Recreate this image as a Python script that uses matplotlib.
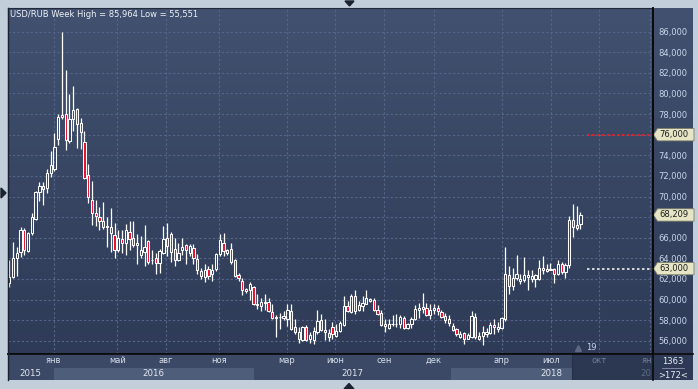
import matplotlib
matplotlib.use('Agg')
import matplotlib.pyplot as plt
import numpy as np
from matplotlib.patches import Rectangle, Polygon
from matplotlib.colors import LinearSegmentedColormap
import matplotlib.transforms as mtransforms

# ---------------- data (weekly USD/RUB candles) ----------------
opens = [61.6, 62.2, 64.0, 64.58, 66.74, 64.74, 66.42, 67.81, 70.4, 71.02,
         70.79, 72.25, 72.63, 75.55, 77.94, 77.97, 75.42, 77.55, 78.49, 77.1,
         75.32, 72.08, 69.66, 68.43, 67.97, 67.65, 67.07, 67.07, 66.26, 64.8,
         65.84, 65.51,
         66.55, 65.94, 65.26, 64.29, 64.65, 65.68, 63.85, 64.0, 63.52, 64.55,
         65.94, 66.32, 64.87, 63.81, 64.77, 65.26, 64.55, 65.03, 63.9, 62.77,
         62.19, 63.0, 62.45, 62.94, 64.39, 65.52, 64.55, 64.87, 63.81, 62.39,
         61.81,
         61.0, 60.9, 61.23, 59.55, 59.39, 59.7, 59.77, 58.81, 58.2, 58.26,
         58.19, 58.1, 58.9, 57.35, 56.87, 56.06, 57.35, 56.16, 56.06, 56.81,
         58.0, 57.03, 56.71, 57.29, 56.48, 56.9, 57.52, 59.35, 58.74, 60.35,
         59.03, 59.35, 59.61, 59.84, 59.94, 58.97, 58.71, 57.65, 57.26, 57.6,
         57.6, 57.58, 58.23, 57.19, 57.58, 58.13, 58.97, 59.29, 59.19, 58.45,
         58.97, 59.19, 58.77, 58.39, 58.06, 57.39, 57.1, 56.39, 56.77, 56.19,
         56.39,
         58.32, 56.45, 56.45, 56.65, 56.77, 57.52, 57.1, 57.19, 58.06, 62.35,
         61.29, 62.13, 61.81, 61.94, 62.19, 62.03, 62.03, 62.03, 62.9, 63.0,
         62.9, 63.0, 62.52, 63.48, 62.68, 63.32, 67.74, 67.26, 67.35]
highs = [63.8, 65.6, 65.13, 67.0, 66.9, 66.55, 68.43, 70.53, 71.44, 71.44,
         72.63, 74.45, 76.13, 77.97, 85.964, 82.28, 79.95, 80.72, 78.59, 77.59,
         76.36, 73.15, 71.5, 69.66, 69.0, 69.5, 68.04, 68.85, 67.39, 66.74,
         66.74, 67.33,
         67.61, 67.61, 66.32, 66.16, 67.23, 65.8, 64.77, 64.55, 64.87, 67.13,
         67.39, 66.58, 65.94, 65.52, 65.94, 65.42, 65.42, 65.35, 64.39, 63.1,
         63.42, 63.26, 63.42, 64.55, 66.32, 66.48, 64.87, 65.52, 63.9, 62.61,
         62.13,
         61.1, 61.71, 61.32, 60.58, 60.19, 60.52, 60.19, 59.55, 58.52, 58.65,
         58.9, 59.55, 59.55, 58.1, 57.29, 57.45, 57.55, 56.81, 57.35, 59.0,
         58.58, 58.1, 57.13, 57.77, 57.61, 57.87, 60.35, 59.87, 60.52, 60.9,
         59.84, 60.32, 60.97, 60.16, 60.16, 59.42, 59.03, 58.06, 58.06, 58.45,
         58.55, 58.45, 58.39, 57.74, 58.32, 59.42, 59.68, 60.65, 59.68, 59.52,
         59.52, 59.42, 59.03, 58.71, 58.45, 57.74, 57.26, 56.94, 56.84, 56.77,
         58.87,
         58.71, 56.87, 57.42, 57.19, 57.84, 58.06, 57.84, 58.32, 65.1, 63.23,
         63.1, 64.29, 62.52, 64.13, 62.84, 62.9, 62.52, 63.87, 64.19, 63.48,
         63.55, 63.1, 63.87, 63.65, 63.55, 68.06, 69.29, 69.03, 68.45]
lows = [61.24, 62.05, 62.28, 64.09, 64.32, 64.6, 66.3, 67.7, 69.6, 69.17,
        70.3, 71.92, 72.5, 75.0, 77.5, 74.51, 75.16, 76.39, 74.67, 74.58,
        71.66, 69.4, 67.26, 67.13, 66.74, 66.84, 65.13, 64.64, 63.99, 64.64,
        64.48, 64.32,
        64.77, 65.1, 63.42, 64.06, 63.26, 63.48, 63.42, 62.52, 62.61, 64.4,
        64.23, 63.68, 63.26, 63.74, 64.32, 63.42, 64.23, 63.42, 62.52, 61.97,
        61.74, 61.97, 61.81, 62.77, 64.23, 64.23, 64.32, 63.42, 62.19, 61.81,
        60.45,
        60.68, 59.94, 59.48, 59.06, 58.9, 58.97, 58.74, 58.1, 56.39, 57.13,
        58.0, 57.45, 57.0, 56.7, 55.74, 56.0, 55.94, 55.74, 55.68, 56.65,
        56.97, 56.06, 56.0, 56.16, 56.32, 56.81, 57.4, 58.74, 58.68, 58.58,
        58.87, 58.87, 59.52, 59.74, 58.87, 58.45, 57.42, 56.84, 57.1, 57.42,
        57.32, 57.26, 57.1, 57.1, 57.26, 58.0, 58.23, 58.71, 58.39, 58.06,
        58.55, 58.45, 58.23, 57.74, 57.42, 56.94, 56.45, 56.29, 55.65, 56.13,
        56.29,
        56.13, 56.06, 55.551, 56.39, 56.65, 56.65, 56.87, 57.1, 57.95, 60.58,
        60.97, 61.87, 61.55, 61.71, 60.97, 61.71, 61.23, 61.87, 62.52, 62.68,
        62.84, 61.61, 62.35, 62.52, 62.13, 63.1, 66.06, 66.77, 66.87]
closes = [62.2, 64.0, 64.48, 66.74, 64.8, 66.49, 68.04, 70.4, 71.02, 70.69,
          72.25, 73.06, 74.77, 77.68, 77.75, 75.48, 77.55, 78.39, 77.0, 76.29,
          71.83, 69.98, 68.36, 68.14, 67.65, 67.07, 67.17, 66.49, 64.8, 65.94,
          65.51, 66.74,
          65.84, 65.26, 65.45, 64.77, 65.13, 63.65, 63.82, 63.58, 64.71, 65.84,
          65.19, 64.65, 63.81, 64.55, 65.1, 64.77, 65.19, 64.0, 62.84, 62.26,
          62.84, 62.29, 62.84, 64.45, 65.74, 64.71, 64.77, 63.68, 62.29, 62.06,
          60.9,
          60.84, 61.48, 59.55, 59.5, 59.71, 59.71, 58.9, 58.19, 58.26, 58.3,
          58.42, 58.97, 57.13, 56.81, 56.16, 57.35, 56.06, 56.58, 56.9, 57.94,
          57.03, 56.81, 56.39, 56.65, 56.97, 57.68, 59.35, 58.84, 60.35, 58.9,
          59.42, 59.68, 60.16, 60.06, 58.97, 58.61, 57.52, 57.42, 57.58, 57.61,
          57.65, 58.29, 57.26, 57.58, 58.13, 59.1, 59.19, 59.1, 58.45, 58.97,
          59.19, 58.87, 58.32, 58.0, 57.74, 57.03, 56.61, 56.61, 56.19, 56.52,
          58.39,
          56.39, 56.13, 56.87, 56.87, 57.52, 57.29, 57.29, 58.16, 62.45, 61.29,
          62.13, 62.45, 61.97, 62.35, 62.35, 62.26, 62.35, 63.1, 63.1, 62.77,
          63.0, 62.45, 63.48, 62.68, 63.32, 67.74, 67.03, 66.94, 68.209]

y_ticks = list(range(56, 87, 2))
month_labels = ['янв', 'май', 'авг', 'ноя', 'мар', 'июн', 'сен', 'дек',
                'апр', 'июл', 'окт', 'янв']
month_pos = [11.8, 28.7, 41.7, 55.9, 73.8, 86.8, 99.8, 112.9,
             131.0, 144.1, 156.9, 170.4]
year_labels = ['2015', '2016', '2017', '2018']
year_starts = [-0.35, 11.8, 65.0, 117.5, 171.0]
levels = [76.0, 63.0]
last_price = closes[-1]
title = 'USD/RUB Week High = 85,964 Low = 55,551'

# ---------------- figure ----------------
W, H = 698, 389
fig = plt.figure(figsize=(W / 100, H / 100), dpi=100)
fig.patch.set_facecolor('#c3cedb')


def fa(x0, y0, x1, y1):
    return [x0 / W, 1 - y1 / H, (x1 - x0) / W, (y1 - y0) / H]


bg = fig.add_axes(fa(8, 8, 693, 380))
bg.set_axis_off()
cmap = LinearSegmentedColormap.from_list('g', ['#41516f', '#2d3955'])
bg.imshow(np.linspace(0, 1, 256).reshape(-1, 1), aspect='auto', cmap=cmap,
          extent=[0, 1, 0, 1])

ax = fig.add_axes(fa(8, 8, 653, 354))
ax.set_facecolor('none')
xmin, xmax = -0.35, 171.3
ax.set_xlim(xmin, xmax)
ax.set_ylim(54.71, 88.30)
ax.set_yticks(y_ticks)
covered = [round(v) for v in [levels[0], last_price]]
ax.set_yticklabels(['' if v in covered else f"{v:.3f}".replace('.', ',') for v in y_ticks])
ax.set_xticks(month_pos)
ax.set_xticklabels([])
ax.yaxis.tick_right()
ax.tick_params(axis='both', length=0)
ax.tick_params(axis='y', pad=4, labelsize=6, labelcolor='#c8d6ec')
ax.grid(True, color='#56668a', linestyle=(0, (2, 2)), linewidth=0.8)
ax.set_axisbelow(True)
for s in ['top', 'left']:
    ax.spines[s].set_color('#222a3a')
for s in ['right', 'bottom']:
    ax.spines[s].set_color('#0a0a0a')
    ax.spines[s].set_linewidth(1.2)

# candles
bw = 0.6
for i, (o, h, l, c) in enumerate(zip(opens, highs, lows, closes)):
    top, bot = max(o, c), min(o, c)
    ax.vlines(i, top, h, color='white', lw=0.9, zorder=3)
    ax.vlines(i, l, bot, color='white', lw=0.9, zorder=3)
    fc = '#e8102c' if c < o else 'none'
    ax.add_patch(Rectangle((i - bw / 2, bot), bw, max(top - bot, 0.06),
                           facecolor=fc, edgecolor='white', lw=0.75, zorder=4))

# level lines
ax.hlines(levels[0], 153.8, xmax, colors='#ff1a1a', linestyles=(0, (1.5, 1.5)), lw=1.2, zorder=3)
ax.hlines(levels[1], 153.8, xmax, colors='#f0f0f0', linestyles=(0, (1.5, 1.5)), lw=1.2, zorder=3)

# price boxes on right axis
tr = mtransforms.blended_transform_factory(ax.transAxes, ax.transData)
axw = 645.0
for v in [levels[0], last_price, levels[1]]:
    dv = 0.6
    xs = [(p - 8) / axw for p in (653.5, 657.5, 694, 694, 657.5)]
    pts = [(xs[0], v), (xs[1], v + dv), (xs[2], v + dv), (xs[3], v - dv), (xs[4], v - dv)]
    ax.add_patch(Polygon(pts, closed=True, transform=tr, clip_on=False,
                         facecolor='#e6e5c6', edgecolor='#7d7d66', lw=0.6, zorder=6))
    ax.text((659 - 8) / axw, v, f"{v:.3f}".replace('.', ','), transform=tr,
            fontsize=6, color='#1c1c1c', va='center', ha='left', zorder=7, clip_on=False)

# "19" marker
ax.plot([151.4], [55.25], marker='^', ms=4, color='#5d6983', zorder=5, clip_on=False)
ax.text(154.8, 55.3, '19', fontsize=6, color='#c8d6ec', ha='center', va='center', zorder=5)

# title
fig.text(10 / W, 1 - 14.5 / H, title, fontsize=6, color='#eef2f7', ha='left', va='center')

# ---------------- bottom time axis ----------------
axb = fig.add_axes(fa(8, 354, 653, 380))
axb.set_xlim(xmin, xmax)
axb.set_ylim(0, 1)
axb.set_facecolor('#3b4966')
axb.set_xticks([])
axb.set_yticks([])
for s in axb.spines.values():
    s.set_visible(False)
for k in range(len(year_labels)):
    if k % 2 == 1:
        axb.axvspan(year_starts[k], year_starts[k + 1], ymin=0, ymax=0.47,
                    color='#4e5d7a', lw=0)
axb.add_patch(Rectangle((149.8, 0), xmax - 149.8, 1, facecolor='#2c3752',
                        edgecolor='#263049', lw=0.8, zorder=2))
for lab, p in zip(month_labels, month_pos):
    col = '#6f7e98' if p > 149.8 else '#d6deea'
    axb.text(p, 0.74, lab, fontsize=6, color=col, ha='center', va='center',
             clip_on=True, zorder=3)
for k, lab in enumerate(year_labels):
    cx = (year_starts[k] + year_starts[k + 1]) / 2
    axb.text(cx, 0.24, lab, fontsize=6.2, color='#e2e8f0', ha='center', va='center', zorder=3)
axb.text(170.9, 0.24, '20', fontsize=6.2, color='#5d6b85', ha='right', va='center', zorder=3)

# ---------------- overlay (frame lines, right-bottom panel, UI marks) ----------------
ui = fig.add_axes([0, 0, 1, 1])
ui.set_xlim(0, W)
ui.set_ylim(H, 0)
ui.set_axis_off()
ui.set_facecolor('none')
ui.plot([8, 693], [354, 354], color='#0a0a0a', lw=1.2)
ui.plot([653, 653], [8, 380], color='#0a0a0a', lw=1.2)
ui.plot([8, 8], [8, 380], color='#1a2130', lw=1.0)
ui.plot([662, 684], [368, 368], color='#8895ab', lw=0.6)
ui.text(673, 361, '1363', fontsize=6, color='#e8eef5', ha='center', va='center')
ui.text(673, 375, '>172<', fontsize=6, color='#e8eef5', ha='center', va='center')
ui.add_patch(Polygon([(345, 1), (354, 1), (349.5, 6)], closed=True, color='#1b2232'))
ui.add_patch(Polygon([(344, 389), (354, 389), (349, 383.5)], closed=True, color='#1b2232'))
ui.add_patch(Polygon([(1, 188), (1, 198), (6, 193)], closed=True, color='#1b2232'))

fig.savefig('out.png', dpi=100, facecolor=fig.get_facecolor())
